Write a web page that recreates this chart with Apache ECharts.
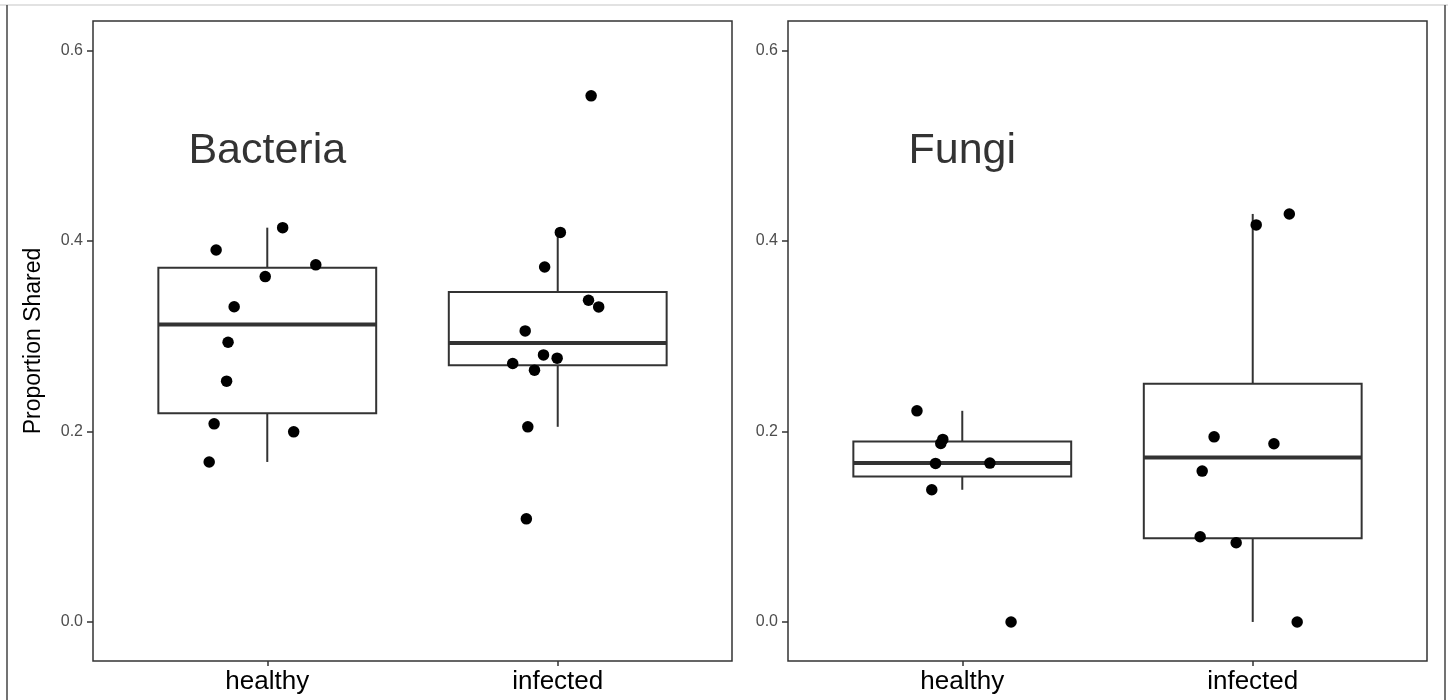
<!DOCTYPE html>
<html>
<head>
<meta charset="utf-8">
<script src="https://cdn.jsdelivr.net/npm/echarts@6/dist/echarts.min.js"></script>
<style>
html,body{margin:0;padding:0;background:#fff;}
#chart{width:1448px;height:700px;}
</style>
</head>
<body>
<div id="chart"></div>
<script>
// ---- data ----
const categories = ['healthy', 'infected'];
const panelTitles = ['Bacteria', 'Fungi'];
const yTickValues = [0, 0.2, 0.4, 0.6];
const yAxisTitle = 'Proportion Shared';

// jittered x positions (category units: healthy = 1, infected = 2) and y values
const bacteriaHealthyX = [1.053, 0.824, 1.167, 0.993, 0.886, 0.865, 0.860, 0.817, 1.091, 0.800];
const bacteriaHealthyY = [0.414, 0.3905, 0.375, 0.3626, 0.331, 0.2937, 0.2528, 0.208, 0.1996, 0.168];
const bacteriaInfectedX = [2.115, 2.009, 1.955, 2.106, 2.141, 1.888, 1.951, 1.998, 1.845, 1.920, 1.897, 1.892];
const bacteriaInfectedY = [0.5524, 0.409, 0.3727, 0.3378, 0.3308, 0.3056, 0.2804, 0.277, 0.2714, 0.2644, 0.2049, 0.1083];
const fungiHealthyX = [0.844, 0.933, 0.926, 0.908, 1.095, 0.895, 1.168];
const fungiHealthyY = [0.2217, 0.1917, 0.1875, 0.1665, 0.1668, 0.1388, 0.0];
const fungiInfectedX = [2.126, 2.012, 1.867, 2.073, 1.826, 1.819, 1.943, 2.153];
const fungiInfectedY = [0.4284, 0.4169, 0.1944, 0.1871, 0.1584, 0.0895, 0.0832, 0.0];

// ---- helpers ----
function quantile7(sorted, p) {
  const h = (sorted.length - 1) * p;
  const lo = Math.floor(h);
  const hi = Math.min(lo + 1, sorted.length - 1);
  return sorted[lo] + (h - lo) * (sorted[hi] - sorted[lo]);
}
function boxStats(center, values) {
  const s = values.slice().sort((a, b) => a - b);
  const q1 = quantile7(s, 0.25), med = quantile7(s, 0.5), q3 = quantile7(s, 0.75);
  const iqr = q3 - q1;
  const lowF = q1 - 1.5 * iqr, highF = q3 + 1.5 * iqr;
  const lo = Math.min(...s.filter(v => v >= lowF));
  const hi = Math.max(...s.filter(v => v <= highF));
  return [center, lo, q1, med, q3, hi];
}
function zip(xs, ys) { return xs.map((x, i) => [x, ys[i]]); }

const panels = [
  { title: panelTitles[0], groups: [[bacteriaHealthyX, bacteriaHealthyY], [bacteriaInfectedX, bacteriaInfectedY]] },
  { title: panelTitles[1], groups: [[fungiHealthyX, fungiHealthyY], [fungiInfectedX, fungiInfectedY]] }
];

const FONT = "'Liberation Sans', Arial, Helvetica, sans-serif";
const LINE = '#333333';
const BOX_HALF = 0.375;

function renderBox(params, api) {
  const x = api.value(0);
  const lo = api.value(1), q1 = api.value(2), med = api.value(3), q3 = api.value(4), hi = api.value(5);
  const pTL = api.coord([x - BOX_HALF, q3]);
  const pBR = api.coord([x + BOX_HALF, q1]);
  const pMedL = api.coord([x - BOX_HALF, med]);
  const pMedR = api.coord([x + BOX_HALF, med]);
  const pHi = api.coord([x, hi]);
  const pQ3 = api.coord([x, q3]);
  const pQ1 = api.coord([x, q1]);
  const pLo = api.coord([x, lo]);
  const st = { stroke: LINE, lineWidth: 2, fill: null };
  return {
    type: 'group',
    children: [
      { type: 'line', shape: { x1: pHi[0], y1: pHi[1], x2: pQ3[0], y2: pQ3[1] }, style: st },
      { type: 'line', shape: { x1: pQ1[0], y1: pQ1[1], x2: pLo[0], y2: pLo[1] }, style: st },
      { type: 'rect', shape: { x: pTL[0], y: pTL[1], width: pBR[0] - pTL[0], height: pBR[1] - pTL[1] },
        style: { stroke: LINE, lineWidth: 2, fill: '#ffffff' } },
      { type: 'line', shape: { x1: pMedL[0], y1: pMedL[1], x2: pMedR[0], y2: pMedR[1] },
        style: { stroke: LINE, lineWidth: 4 } }
    ]
  };
}

const grids = [], xAxes = [], yAxes = [], series = [];
const gridLefts = [93, 788];

panels.forEach((panel, i) => {
  grids.push({ left: gridLefts[i], top: 21, width: 639, height: 640, show: true,
    borderColor: LINE, borderWidth: 1.5, backgroundColor: 'transparent' });
  xAxes.push({
    gridIndex: i, type: 'value', min: 0.4, max: 2.6, position: 'bottom',
    axisLine: { show: false, onZero: false },
    splitLine: { show: false },
    axisTick: { show: true, customValues: [1, 2], length: 5, lineStyle: { color: LINE, width: 1.5 } },
    axisLabel: { show: true, customValues: [1, 2], margin: 8,
      formatter: v => categories[Math.round(v) - 1] || '',
      fontFamily: FONT, fontSize: 26, color: '#000000' }
  });
  yAxes.push({
    gridIndex: i, type: 'value', min: -0.041, max: 0.631, position: 'left',
    axisLine: { show: false, onZero: false },
    splitLine: { show: false },
    axisTick: { show: true, customValues: yTickValues, length: 6, lineStyle: { color: LINE, width: 1.5 } },
    axisLabel: { show: true, customValues: yTickValues, margin: 10,
      formatter: v => v.toFixed(1), fontFamily: FONT, fontSize: 16, color: '#4D4D4D' },
    name: i === 0 ? yAxisTitle : '',
    nameLocation: 'middle', nameGap: 48, nameRotate: 90,
    nameTextStyle: { fontFamily: FONT, fontSize: 23, color: '#000000' }
  });
  const boxData = panel.groups.map((g, k) => boxStats(k + 1, g[1]));
  series.push({
    type: 'custom', xAxisIndex: i, yAxisIndex: i, z: 2,
    renderItem: renderBox, data: boxData, silent: true,
    encode: { x: 0, y: [1, 2, 3, 4, 5] }
  });
  panel.groups.forEach(g => {
    series.push({
      type: 'scatter', xAxisIndex: i, yAxisIndex: i, z: 5,
      symbol: 'circle', symbolSize: 11.5,
      itemStyle: { color: '#000000', opacity: 1 },
      data: zip(g[0], g[1]), silent: true
    });
  });
  series.push({
    type: 'scatter', xAxisIndex: i, yAxisIndex: i, z: 6, symbolSize: 0,
    data: [{ value: [1, 0.5], name: panel.title }], silent: true,
    itemStyle: { color: '#000000' },
    label: { show: true, position: 'inside', formatter: '{b}', offset: [0, 5],
      fontFamily: FONT, fontSize: 43, color: '#000000', textBorderWidth: 0 }
  });
});

const chart = echarts.init(document.getElementById('chart'), null, { renderer: 'canvas' });
chart.setOption({
  animation: false,
  backgroundColor: '#ffffff',
  grid: grids, xAxis: xAxes, yAxis: yAxes, series: series,
  graphic: [
    { type: 'line', shape: { x1: 0, y1: 5, x2: 1448, y2: 5 }, style: { stroke: '#d9d9d9', lineWidth: 1.5 }, silent: true },
    { type: 'line', shape: { x1: 7, y1: 5, x2: 7, y2: 700 }, style: { stroke: '#444444', lineWidth: 1.5 }, silent: true },
    { type: 'line', shape: { x1: 1445, y1: 5, x2: 1445, y2: 700 }, style: { stroke: '#444444', lineWidth: 1.5 }, silent: true }
  ]
});
</script>
</body>
</html>
